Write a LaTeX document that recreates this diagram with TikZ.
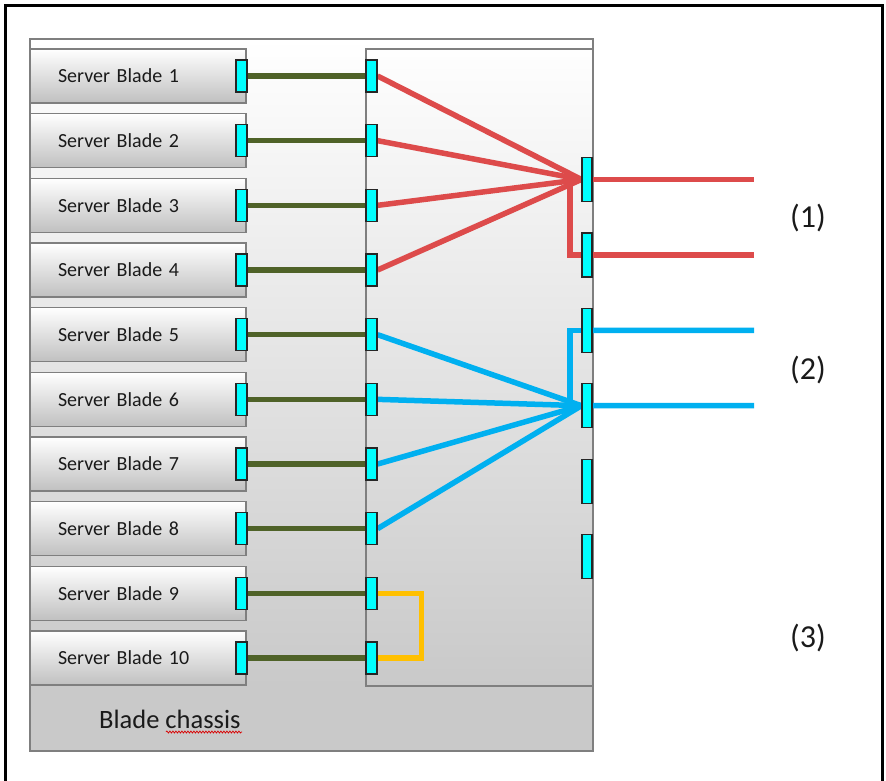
\documentclass[tikz,border=0pt]{standalone}
\usepackage{fontspec}
\setmainfont{Carlito}
\usetikzlibrary{decorations.pathmorphing}
\definecolor{framegray}{HTML}{7F7F7F}
\definecolor{chassisgray}{HTML}{C9C9C9}
\definecolor{bladegray}{HTML}{C0C0C0}
\definecolor{portcyan}{HTML}{00FFFF}
\definecolor{portedge}{HTML}{262626}
\definecolor{linkgreen}{HTML}{4F6228}
\definecolor{linkred}{HTML}{DD4B4B}
\definecolor{linkblue}{HTML}{00B0F0}
\definecolor{linkyellow}{HTML}{FFC000}
\definecolor{textdark}{HTML}{1A1A1A}
\pgfdeclarelayer{base}
\pgfdeclarelayer{ports}
\pgfsetlayers{base,main,ports}
\begin{document}
\begin{tikzpicture}[x=1pt,y=-1pt,
  frame/.style={draw=framegray,line width=1.4pt},
  blade/.style={frame,top color=white,bottom color=bladegray,
    minimum width=216pt,minimum height=54pt,text width=160pt,
    inner xsep=28pt,align=left,font=\fontsize{20}{24}\selectfont,text=textdark},
  port/.style={draw=portedge,fill=portcyan,line width=1.2pt,inner sep=0pt},
  bport/.style={port,minimum width=11pt,minimum height=32pt},
  uport/.style={port,minimum width=10pt,minimum height=44pt},
  link/.style={line width=5.5pt},
  greenlink/.style={link,draw=linkgreen},
  redlink/.style={link,draw=linkred},
  bluelink/.style={link,draw=linkblue},
  yellowlink/.style={link,draw=linkyellow,line join=miter},
  grouplabel/.style={font=\fontsize{32}{36}\selectfont,text=textdark}]
\useasboundingbox (0,0) rectangle (886,781);

\begin{pgfonlayer}{base}
\fill[white] (0,0) rectangle (886,781);
% outer page frame
\draw[black,line width=3pt] (5,781) -- (5,6) -- (882,6) -- (882,781);
% chassis body and switch module
\shade[top color=white,bottom color=chassisgray] (30,39) rectangle (593,686);
\fill[chassisgray] (30,686) rectangle (593,751);
\draw[frame] (30,39) rectangle (593,751);
\draw[frame] (366,49) rectangle (593,686);
\node[anchor=base west,font=\fontsize{26.5}{30}\selectfont,text=textdark,inner sep=0pt] (chassis) at (99,728) {Blade chassis};
\draw[red!85!black,line width=0.7pt,decorate,decoration={snake,amplitude=1pt,segment length=3pt}] (166,732) -- (242,732);
% server blades
\foreach \i in {1,...,10}{
  \pgfmathsetmacro\yy{76+(\i-1)*64.67}
  \node[blade] (b\i) at (138,\yy) {Server Blade \i};
}
\end{pgfonlayer}

\begin{pgfonlayer}{ports}
% blade ports and switch-side ports
\foreach \i in {1,...,10}{
  \pgfmathsetmacro\yy{76+(\i-1)*64.67}
  \node[bport] (bp\i) at (241.5,\yy) {};
  \node[bport] (sp\i) at (371.5,\yy) {};
}
% uplink ports
\foreach \j in {1,...,6}{
  \pgfmathsetmacro\yy{179.5+(\j-1)*75.4}
  \node[uport] (u\j) at (587,\yy) {};
}
\end{pgfonlayer}

% free ends of the uplinks and bend points
\coordinate (o1) at (754,179.5);
\coordinate (o2) at (754,254.9);
\coordinate (o3) at (754,330.3);
\coordinate (o4) at (754,405.7);
\coordinate (rv) at (570,179.5);
\coordinate (bv) at (570,405.7);

% blade to switch links
\foreach \i in {1,...,10}{
  \draw[greenlink] (bp\i.east) -- (sp\i.west);
}
% group (1)
\foreach \i in {1,...,4}{
  \draw[redlink] (sp\i.east) -- (u1.west);
}
\draw[redlink] (rv) |- (u2.west);
\draw[redlink] (u1.east) -- (o1);
\draw[redlink] (u2.east) -- (o2);
% group (2)
\foreach \i in {5,...,8}{
  \draw[bluelink] (sp\i.east) -- (u4.west);
}
\draw[bluelink] (bv) |- (u3.west);
\draw[bluelink] (u3.east) -- (o3);
\draw[bluelink] (u4.east) -- (o4);
% group (3)
\draw[yellowlink] (sp9.east) -- ++(44,0) |- (sp10.east);

\node[grouplabel] (g1) at (808,218) {(1)};
\node[grouplabel] (g2) at (808,370) {(2)};
\node[grouplabel] (g3) at (808,638) {(3)};
\end{tikzpicture}
\end{document}
